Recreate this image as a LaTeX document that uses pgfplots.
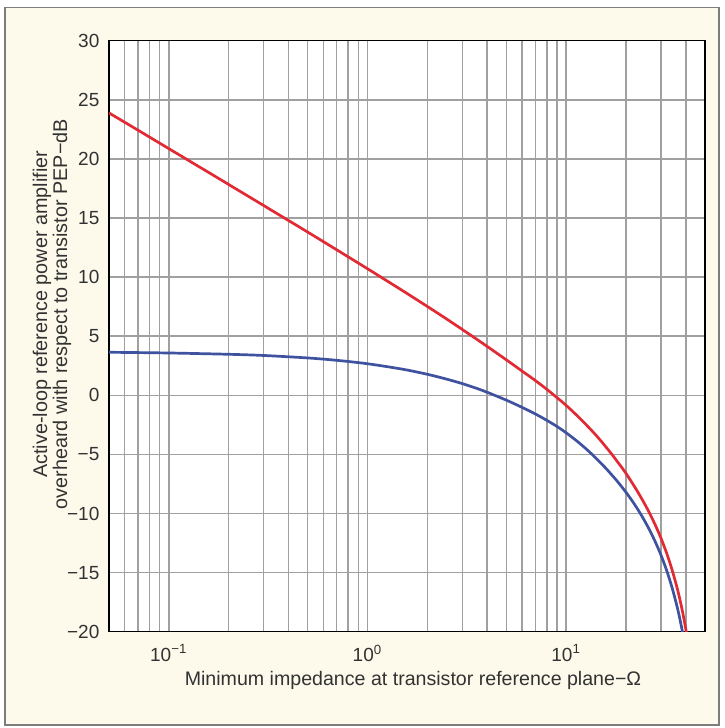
\documentclass[border=0pt]{standalone}
\usepackage{fontspec}
\setmainfont{Liberation Sans}
\usepackage{pgfplots}
\pgfplotsset{compat=1.18}
\definecolor{cream}{RGB}{253,250,236}
\definecolor{framegray}{RGB}{125,125,125}
\definecolor{gridgray}{RGB}{160,160,160}
\definecolor{cred}{RGB}{226,42,52}
\definecolor{cblue}{RGB}{62,82,160}
\definecolor{txt}{RGB}{50,50,50}
\begin{document}
\begin{tikzpicture}[x=1pt,y=1pt]
\fill[white] (-54.5,-48.15) rectangle (307.5,315.85);
\filldraw[fill=cream, draw=framegray, line width=0.6pt] (-52,-46.65) rectangle (305,312.2);
\begin{axis}[
  at={(0,0)}, anchor=south west,
  scale only axis, width=298pt, height=295.5pt,
  xmode=log, xmin=0.05, xmax=50, ymin=-20, ymax=30,
  xtick={0.1,1,10},
  xticklabels={10\textsuperscript{−1},10\textsuperscript{0},10\textsuperscript{1}},
  minor xtick={0.06,0.07,0.08,0.09,0.2,0.3,0.4,0.5,0.6,0.7,0.8,0.9,2,3,4,5,6,7,8,9,20,30,40},
  ytick={-20,-15,-10,-5,0,5,10,15,20,25,30},
  yticklabels={−20,−15,−10,−5,0,5,10,15,20,25,30},
  xmajorgrids=true, xminorgrids=true, ymajorgrids=true,
  major grid style={gridgray, line width=0.75pt},
  minor grid style={gridgray, line width=0.75pt},
  major tick length=0pt, minor tick length=0pt,
  axis line style={black, line width=0.75pt},
  axis background/.style={fill=white},
  tick label style={font=\fontsize{9.5}{11}\selectfont, text=txt},
  yticklabel style={xshift=-1.3pt},
  xticklabel style={yshift=-3pt},
  xlabel={Minimum impedance at transistor reference plane−Ω},
  xlabel style={font=\fontsize{9.8}{11}\selectfont, text=txt, at={(axis description cs:0.5,0)}, anchor=base, yshift=-27pt, xshift=3pt},
  ylabel={Active-loop reference power amplifier\\overheard with respect to transistor PEP−dB},
  ylabel style={font=\fontsize{9.9}{10}\selectfont, text=txt, align=center, at={(axis description cs:-0.0956,0.5372)}, anchor=center},
]
\addplot[cred, line width=1.35pt, smooth] coordinates {
(0.05,23.89)(0.07,22.43)(0.1,20.87)(0.15,19.10)(0.2,17.84)(0.3,16.06)(0.5,13.81)(0.7,12.31)(1,10.71)(1.5,8.86)(2,7.52)(2.5,6.46)(3,5.57)(3.5,4.81)(4,4.14)(5,3.0)(6,2.05)(7,1.25)(8,0.5)(9,-0.2)(10,-0.85)(11,-1.5)(12,-2.12)(13,-2.72)(14,-3.3)(15,-3.88)(16,-4.45)(17,-5.0)(18,-5.55)(19,-6.08)(20,-6.6)(22,-7.68)(24,-8.74)(26,-9.81)(28,-10.92)(30,-12.08)(32,-13.32)(34,-14.67)(36,-16.15)(37,-16.96)(38,-17.82)(39,-18.76)(40,-19.77)(40.5,-20.32)
};
\addplot[cblue, line width=1.35pt, smooth] coordinates {
(0.05,3.64)(0.1,3.58)(0.2,3.47)(0.3,3.37)(0.5,3.16)(0.7,2.96)(1,2.67)(1.5,2.21)(2,1.78)(2.5,1.37)(3,0.99)(3.5,0.62)(4,0.26)(5,-0.41)(6,-1.02)(7,-1.58)(8,-2.12)(9,-2.64)(10,-3.17)(11,-3.7)(12,-4.22)(13,-4.74)(14,-5.25)(15,-5.76)(16,-6.25)(17,-6.75)(18,-7.23)(20,-8.2)(22,-9.18)(24,-10.19)(26,-11.24)(28,-12.34)(30,-13.51)(32,-14.78)(34,-16.17)(36,-17.73)(37,-18.59)(38,-19.52)(38.5,-20.01)(39,-20.53)
};
\end{axis}
\end{tikzpicture}
\end{document}
